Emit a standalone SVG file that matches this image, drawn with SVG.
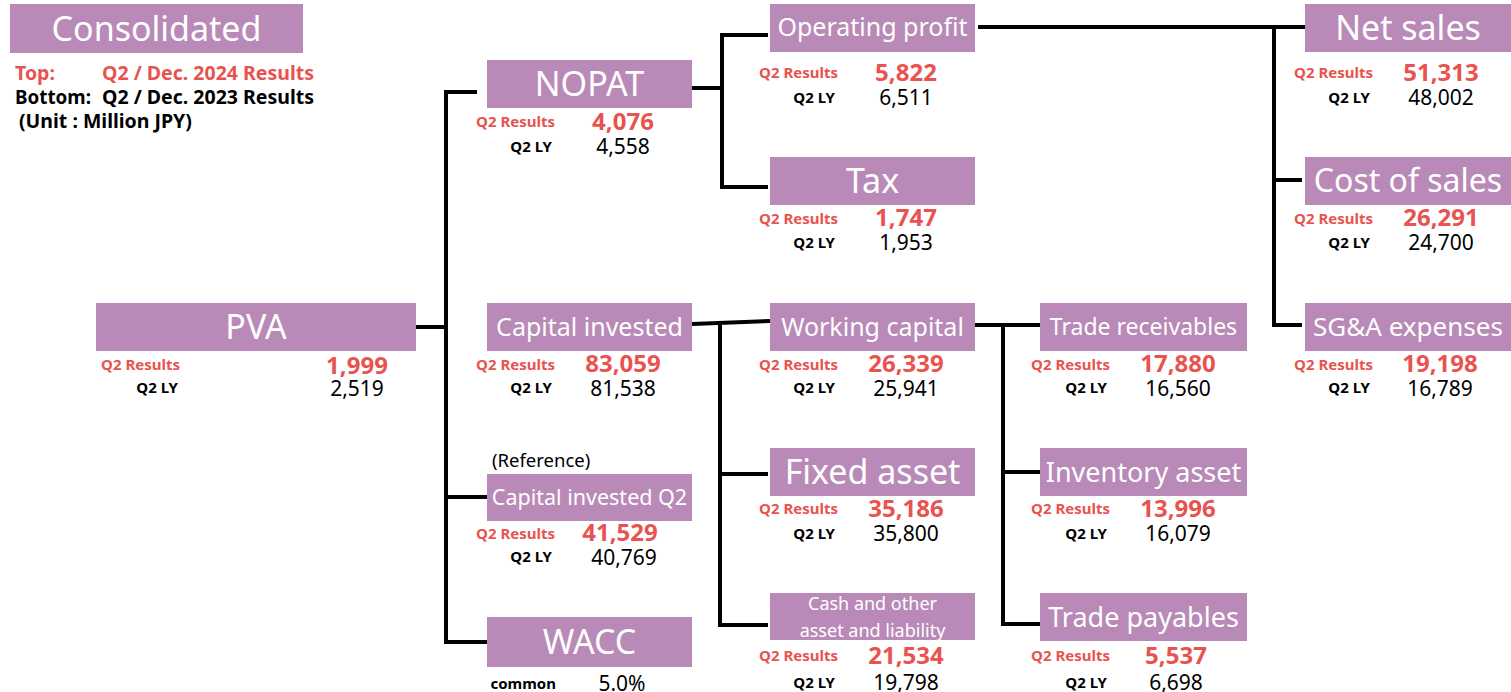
<svg xmlns="http://www.w3.org/2000/svg" width="1511" height="692" viewBox="0 0 1511 692">
<style>
text{font-family:"Noto Sans","Open Sans","Liberation Sans",sans-serif}
.box{fill:#b98ab7}
.lbl{fill:#fff;text-anchor:middle}
.rl{fill:#e9534f;font-weight:bold;font-size:15px;text-anchor:end}
.ll{fill:#000;font-weight:bold;font-size:15px;text-anchor:end}
.rv{fill:#e9534f;font-weight:bold;font-size:24px;text-anchor:middle}
.lv{fill:#000;font-size:21px;text-anchor:middle}
.conn{stroke:#000;stroke-width:4;fill:none}
.leg{font-weight:bold;font-size:19.5px}
</style>
<rect width="1511" height="692" fill="#fff"/>
<g id="header">
<rect class="box" x="10" y="4" width="293" height="49"/>
<text class="lbl" x="156.5" y="41" font-size="34">Consolidated</text>
<text class="leg" x="15" y="80" fill="#e9534f">Top:</text>
<text class="leg" x="102" y="80" fill="#e9534f">Q2 / Dec. 2024 Results</text>
<text class="leg" x="15" y="104" textLength="76" lengthAdjust="spacingAndGlyphs">Bottom:</text>
<text class="leg" x="102" y="104">Q2 / Dec. 2023 Results</text>
<text class="leg" x="19" y="128">(Unit : Million JPY)</text>
</g>
<g id="connectors">
<path class="conn" d="M416 327H446"/>
<path class="conn" d="M477 92H446V642H487"/>
<path class="conn" d="M446 497H487"/>
<path class="conn" d="M692 88H722"/>
<path class="conn" d="M768 35H722V187H768"/>
<path class="conn" d="M978 27H1305"/>
<path class="conn" d="M1274 27V325H1302"/>
<path class="conn" d="M1274 180H1302"/>
<path class="conn" d="M692 324L770 321"/>
<path class="conn" d="M720 323V625H768"/>
<path class="conn" d="M720 474H768"/>
<path class="conn" d="M975 325H1040"/>
<path class="conn" d="M1003 325V624H1040"/>
<path class="conn" d="M1003 472H1040"/>
</g>
<g id="pva">
<rect class="box" x="96" y="303" width="320" height="48"/>
<text class="lbl" x="256" y="339" font-size="34">PVA</text>
<text class="rl" x="180" y="370">Q2 Results</text>
<text class="rv" x="357" y="374">1,999</text>
<text class="ll" x="178" y="393">Q2 LY</text>
<text class="lv" x="357" y="396">2,519</text>
</g>
<g id="nopat">
<rect class="box" x="487" y="60" width="205" height="48"/>
<text class="lbl" x="589.5" y="96" font-size="34">NOPAT</text>
<text class="rl" x="555" y="127">Q2 Results</text>
<text class="rv" x="623" y="130">4,076</text>
<text class="ll" x="552" y="152">Q2 LY</text>
<text class="lv" x="623" y="154">4,558</text>
</g>
<g id="operating-profit">
<rect class="box" x="770" y="4" width="205" height="48"/>
<text class="lbl" x="872.5" y="36" font-size="25">Operating profit</text>
<text class="rl" x="838" y="78">Q2 Results</text>
<text class="rv" x="906" y="81">5,822</text>
<text class="ll" x="835" y="103">Q2 LY</text>
<text class="lv" x="906" y="105">6,511</text>
</g>
<g id="tax">
<rect class="box" x="770" y="157" width="205" height="48"/>
<text class="lbl" x="872.5" y="193" font-size="34">Tax</text>
<text class="rl" x="838" y="224">Q2 Results</text>
<text class="rv" x="906" y="226">1,747</text>
<text class="ll" x="835" y="248">Q2 LY</text>
<text class="lv" x="906" y="250">1,953</text>
</g>
<g id="net-sales">
<rect class="box" x="1305" y="4" width="206" height="48"/>
<text class="lbl" x="1408" y="40" font-size="34">Net sales</text>
<text class="rl" x="1373" y="78">Q2 Results</text>
<text class="rv" x="1441" y="81">51,313</text>
<text class="ll" x="1370" y="103">Q2 LY</text>
<text class="lv" x="1441" y="105">48,002</text>
</g>
<g id="cost-of-sales">
<rect class="box" x="1305" y="157" width="206" height="48"/>
<text class="lbl" x="1408" y="192" font-size="32">Cost of sales</text>
<text class="rl" x="1373" y="224">Q2 Results</text>
<text class="rv" x="1441" y="226">26,291</text>
<text class="ll" x="1370" y="248">Q2 LY</text>
<text class="lv" x="1441" y="250">24,700</text>
</g>
<g id="sga-expenses">
<rect class="box" x="1305" y="303" width="206" height="48"/>
<text class="lbl" x="1408" y="336" font-size="26">SG&amp;A expenses</text>
<text class="rl" x="1373" y="370">Q2 Results</text>
<text class="rv" x="1440" y="372">19,198</text>
<text class="ll" x="1370" y="393">Q2 LY</text>
<text class="lv" x="1440" y="396">16,789</text>
</g>
<g id="capital-invested">
<rect class="box" x="487" y="303" width="205" height="48"/>
<text class="lbl" x="589.5" y="336" font-size="25">Capital invested</text>
<text class="rl" x="555" y="370">Q2 Results</text>
<text class="rv" x="623" y="372">83,059</text>
<text class="ll" x="552" y="393">Q2 LY</text>
<text class="lv" x="623" y="396">81,538</text>
</g>
<g id="working-capital">
<rect class="box" x="770" y="303" width="205" height="48"/>
<text class="lbl" x="872.5" y="336" font-size="25">Working capital</text>
<text class="rl" x="838" y="370">Q2 Results</text>
<text class="rv" x="906" y="372">26,339</text>
<text class="ll" x="835" y="393">Q2 LY</text>
<text class="lv" x="906" y="396">25,941</text>
</g>
<g id="trade-receivables">
<rect class="box" x="1040" y="303" width="207" height="48"/>
<text class="lbl" x="1143.5" y="335" font-size="23">Trade receivables</text>
<text class="rl" x="1110" y="370">Q2 Results</text>
<text class="rv" x="1178" y="372">17,880</text>
<text class="ll" x="1107" y="393">Q2 LY</text>
<text class="lv" x="1178" y="396">16,560</text>
</g>
<g id="capital-invested-q2">
<text x="492" y="467" font-size="18.5" fill="#000">(Reference)</text>
<rect class="box" x="487" y="474" width="205" height="47"/>
<text class="lbl" x="589.5" y="505" font-size="21.5">Capital invested Q2</text>
<text class="rl" x="555" y="539">Q2 Results</text>
<text class="rv" x="620" y="541">41,529</text>
<text class="ll" x="552" y="562">Q2 LY</text>
<text class="lv" x="624" y="565">40,769</text>
</g>
<g id="fixed-asset">
<rect class="box" x="770" y="448" width="205" height="48"/>
<text class="lbl" x="872.5" y="484" font-size="34">Fixed asset</text>
<text class="rl" x="838" y="514">Q2 Results</text>
<text class="rv" x="906" y="517">35,186</text>
<text class="ll" x="835" y="539">Q2 LY</text>
<text class="lv" x="906" y="541">35,800</text>
</g>
<g id="inventory-asset">
<rect class="box" x="1040" y="448" width="207" height="48"/>
<text class="lbl" x="1143.5" y="482" font-size="27">Inventory asset</text>
<text class="rl" x="1110" y="514">Q2 Results</text>
<text class="rv" x="1178" y="517">13,996</text>
<text class="ll" x="1107" y="539">Q2 LY</text>
<text class="lv" x="1178" y="541">16,079</text>
</g>
<g id="wacc">
<rect class="box" x="487" y="617" width="205" height="50"/>
<text class="lbl" x="589.5" y="654" font-size="34">WACC</text>
<text class="ll" x="556" y="689">common</text>
<text class="lv" x="622" y="691">5.0%</text>
</g>
<g id="cash-other">
<rect class="box" x="770" y="593" width="205" height="47"/>
<text class="lbl" x="872.5" y="610" font-size="18">Cash and other</text>
<text class="lbl" x="872.5" y="637" font-size="18">asset and liability</text>
<text class="rl" x="838" y="661">Q2 Results</text>
<text class="rv" x="906" y="664">21,534</text>
<text class="ll" x="835" y="688">Q2 LY</text>
<text class="lv" x="906" y="690">19,798</text>
</g>
<g id="trade-payables">
<rect class="box" x="1040" y="593" width="207" height="48"/>
<text class="lbl" x="1143.5" y="627" font-size="27">Trade payables</text>
<text class="rl" x="1110" y="661">Q2 Results</text>
<text class="rv" x="1176" y="664">5,537</text>
<text class="ll" x="1107" y="688">Q2 LY</text>
<text class="lv" x="1176" y="690">6,698</text>
</g>
</svg>
